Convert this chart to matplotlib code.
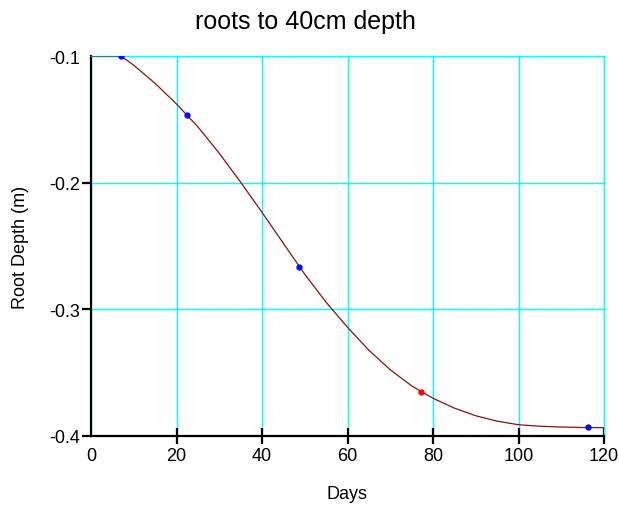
import matplotlib
matplotlib.use("Agg")
from matplotlib import pyplot as plt

plt.rcParams['font.family'] = ['Liberation Sans', 'DejaVu Sans']

# fitted root depth curve
curve_days = [0, 7, 10, 15, 20, 25, 30, 35, 40, 45, 50, 55, 60,
              65, 70, 75, 80, 85, 90, 95, 100, 105, 110, 115, 120]
curve_depth = [-0.1, -0.1, -0.1073, -0.1216, -0.1379, -0.1559, -0.1768,
               -0.1996, -0.2234, -0.2479, -0.2723, -0.2944, -0.3142,
               -0.3323, -0.3477, -0.3604, -0.3702, -0.378, -0.384,
               -0.3883, -0.3911, -0.3923, -0.3929, -0.3933, -0.3934]

# observed points
obs_days = [7, 22.5, 48.6, 116.2]
obs_depth = [-0.1, -0.1468, -0.2663, -0.3926]
red_days = [77.3]
red_depth = [-0.3655]

x_ticks = [0, 20, 40, 60, 80, 100, 120]
y_ticks = [-0.4, -0.3, -0.2, -0.1]

fig = plt.figure(figsize=(6.19, 5.06), dpi=100)
ax = fig.add_axes([91 / 619, 69 / 506, 513 / 619, 380 / 506])

ax.plot(curve_days, curve_depth, color='#8b1010', lw=0.9, zorder=3)
ax.plot(obs_days, obs_depth, 'o', color='#0000ff', ms=3.5, zorder=4)
ax.plot(red_days, red_depth, 'o', color='#ff0000', ms=3.5, zorder=4)

ax.set_xlim(0, 120)
ax.set_ylim(-0.4, -0.1)
ax.set_xticks(x_ticks)
ax.set_yticks(y_ticks)
ax.set_yticklabels(['-0.4', '-0.3', '-0.2', '-0.1'])

ax.grid(True, color='#00ffff', lw=1.0)
ax.set_axisbelow(True)
for side in ['top', 'right']:
    ax.spines[side].set_color('#00ffff')
    ax.spines[side].set_linewidth(1.0)
for side in ['left', 'bottom']:
    ax.spines[side].set_linewidth(1.6)

ax.tick_params(axis='x', direction='inout', length=12, width=1.6, pad=2, labelsize=13)
ax.tick_params(axis='y', direction='out', length=6.5, width=1.6, pad=1, labelsize=13)
ax.xaxis.get_major_ticks()[0].tick1line.set_visible(False)
ax.yaxis.get_major_ticks()[-1].tick1line.set_visible(False)

ax.set_xlabel('Days', fontsize=13, labelpad=15)
ax.set_ylabel('Root Depth (m)', fontsize=13, labelpad=15)
# title sits centred on the figure, not the axes
fig.text(305 / 619, 1 - 22 / 506, 'roots to 40cm depth', fontsize=18,
         ha='center', va='center')

fig.savefig('out.png', dpi=100)
